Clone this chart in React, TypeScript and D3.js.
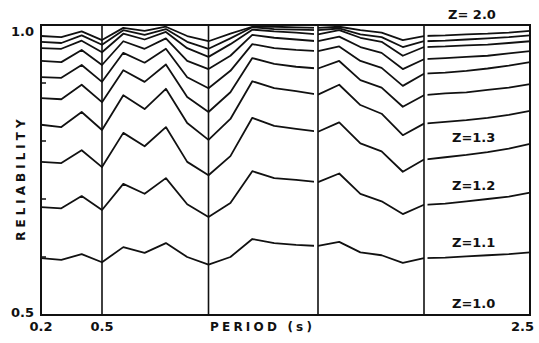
import React from "react";
import * as d3 from "d3";

// Period (s) at which each curve is sampled
const periods = [0.2, 0.3, 0.4, 0.5, 0.6, 0.7, 0.8, 0.9, 1.0, 1.1, 1.2, 1.3, 1.4, 1.5, 1.6, 1.7, 1.8, 1.9, 2.0, 2.1, 2.2, 2.3, 2.4, 2.5];

// Reliability for each safety factor Z
const z10 = [0.5, 0.5, 0.5, 0.5, 0.5, 0.5, 0.5, 0.5, 0.5, 0.5, 0.5, 0.5, 0.5, 0.5, 0.5, 0.5, 0.5, 0.5, 0.5, 0.5, 0.5, 0.5, 0.5, 0.5];
const z11 = [0.598, 0.595, 0.605, 0.591, 0.617, 0.607, 0.624, 0.600, 0.587, 0.600, 0.631, 0.624, 0.621, 0.619, 0.626, 0.608, 0.603, 0.590, 0.598, 0.599, 0.601, 0.603, 0.605, 0.608];
const z12 = [0.686, 0.684, 0.705, 0.681, 0.726, 0.709, 0.736, 0.691, 0.669, 0.693, 0.748, 0.736, 0.733, 0.729, 0.744, 0.709, 0.696, 0.674, 0.690, 0.692, 0.696, 0.700, 0.704, 0.711];
const z13 = [0.764, 0.762, 0.784, 0.755, 0.814, 0.791, 0.824, 0.764, 0.741, 0.774, 0.840, 0.826, 0.821, 0.816, 0.832, 0.796, 0.782, 0.747, 0.768, 0.772, 0.776, 0.781, 0.787, 0.795];
const z14 = [0.828, 0.824, 0.850, 0.819, 0.879, 0.855, 0.890, 0.831, 0.802, 0.838, 0.903, 0.891, 0.886, 0.880, 0.897, 0.862, 0.847, 0.810, 0.830, 0.833, 0.836, 0.840, 0.845, 0.852];
const z15 = [0.874, 0.872, 0.897, 0.867, 0.922, 0.902, 0.932, 0.876, 0.850, 0.884, 0.943, 0.933, 0.928, 0.925, 0.938, 0.905, 0.892, 0.859, 0.879, 0.882, 0.884, 0.888, 0.892, 0.898];
const z16 = [0.910, 0.909, 0.931, 0.902, 0.952, 0.935, 0.959, 0.910, 0.891, 0.921, 0.967, 0.960, 0.957, 0.955, 0.963, 0.938, 0.926, 0.895, 0.916, 0.918, 0.921, 0.925, 0.930, 0.936];
const z17 = [0.938, 0.936, 0.957, 0.931, 0.972, 0.959, 0.977, 0.938, 0.924, 0.947, 0.983, 0.978, 0.975, 0.972, 0.980, 0.962, 0.952, 0.924, 0.941, 0.943, 0.945, 0.947, 0.951, 0.955];
const z18 = [0.960, 0.959, 0.973, 0.953, 0.985, 0.975, 0.988, 0.960, 0.945, 0.967, 0.992, 0.989, 0.987, 0.984, 0.991, 0.978, 0.971, 0.947, 0.962, 0.963, 0.965, 0.966, 0.969, 0.972];
const z19 = [0.971, 0.969, 0.982, 0.966, 0.991, 0.983, 0.993, 0.971, 0.959, 0.977, 0.996, 0.993, 0.992, 0.991, 0.994, 0.984, 0.979, 0.962, 0.972, 0.973, 0.975, 0.977, 0.979, 0.982];
const z20 = [0.981, 0.979, 0.989, 0.974, 0.995, 0.990, 0.997, 0.981, 0.972, 0.985, 0.997, 0.997, 0.996, 0.995, 0.997, 0.991, 0.987, 0.974, 0.981, 0.982, 0.984, 0.985, 0.987, 0.990];

const series = [z10, z11, z12, z13, z14, z15, z16, z17, z18, z19, z20];

// Period break lines and axis tick labels
const breakPeriods = [0.5, 1.0, 1.5, 2.0];
const xTickLabels = ["0.2", "0.5", "2.5"];
const yTickLabels = ["1.0", "0.5"];
const yMinorTicks = [0.6, 0.7, 0.8, 0.9];
const curveLabels = ["Z=1.0", "Z=1.1", "Z=1.2", "Z=1.3"];
const topLabel = "Z= 2.0";

const W = 539;
const H = 343;
const FONT = "'DejaVu Sans', sans-serif";

export default function App() {
  const x = d3
    .scaleLinear()
    .domain([0.2, 0.5, 1.0, 1.5, 2.0, 2.5])
    .range([41, 102, 208.5, 318, 424, 530]);
  const y = d3.scaleLinear().domain([0.5, 1.0]).range([315, 25]);

  const line = d3
    .line<number>()
    .x((_, i) => x(periods[i]))
    .y((d) => y(d));

  const x0 = x(0.2);
  const x1 = x(2.5);
  const yTop = y(1.0);
  const yBot = y(0.5);

  const labelSeries = [z10, z11, z12, z13];

  return (
    <svg
      width={W}
      height={H}
      style={{ position: "absolute", left: 0, top: 0, background: "#fff" }}
      fontFamily={FONT}
    >
      <rect x={0} y={0} width={W} height={H} fill="#fff" />
      {/* curves */}
      <g fill="none" stroke="#111" strokeWidth={1.8} strokeLinejoin="round">
        {series.map((s, i) => (
          <path key={i} d={line(s) || ""} />
        ))}
      </g>
      {/* small pen gaps beside the 1.5 and 2.0 break lines */}
      <rect x={x(1.5) - 4} y={yTop + 2} width={4} height={yBot - yTop - 4} fill="#fff" />
      <rect x={x(2.0)} y={yTop + 2} width={3.5} height={yBot - yTop - 4} fill="#fff" />
      {/* period break lines */}
      <g stroke="#111" strokeWidth={1.6}>
        {breakPeriods.map((p) => (
          <line key={p} x1={x(p)} x2={x(p)} y1={yTop} y2={yBot} />
        ))}
      </g>
      {/* frame */}
      <rect
        x={x0}
        y={yTop}
        width={x1 - x0}
        height={yBot - yTop}
        fill="none"
        stroke="#111"
        strokeWidth={2}
      />
      {/* minor y ticks */}
      <g stroke="#111" strokeWidth={1.5}>
        {yMinorTicks.map((t) => (
          <line key={t} x1={x0} x2={x0 + 5} y1={y(t)} y2={y(t)} />
        ))}
      </g>
      {/* y tick labels */}
      <g fontSize={13} fontWeight="bold" fill="#111" textAnchor="end">
        <text x={34} y={y(1.0) + 11}>{yTickLabels[0]}</text>
        <text x={34} y={y(0.5) + 2}>{yTickLabels[1]}</text>
      </g>
      {/* x tick labels */}
      <g fontSize={13} fontWeight="bold" fill="#111">
        <text x={x(0.2)} y={331} textAnchor="middle">{xTickLabels[0]}</text>
        <text x={x(0.5)} y={331} textAnchor="middle">{xTickLabels[1]}</text>
        <text x={534} y={331} textAnchor="end">{xTickLabels[2]}</text>
        <text x={210} y={331} letterSpacing={3.2} fontSize={12}>PERIOD (s)</text>
      </g>
      {/* y axis title */}
      <text
        transform={`translate(25, 178) rotate(-90)`}
        textAnchor="middle"
        fontSize={12}
        fontWeight="bold"
        letterSpacing={4}
        fill="#111"
      >
        RELIABILITY
      </text>
      {/* curve labels */}
      <g fontSize={13} fontWeight="bold" fill="#111">
        {curveLabels.map((lab, i) => (
          <text key={lab} x={452} y={y(labelSeries[i][22]) - 7}>
            {lab}
          </text>
        ))}
        <text x={448} y={19}>{topLabel}</text>
      </g>
    </svg>
  );
}
